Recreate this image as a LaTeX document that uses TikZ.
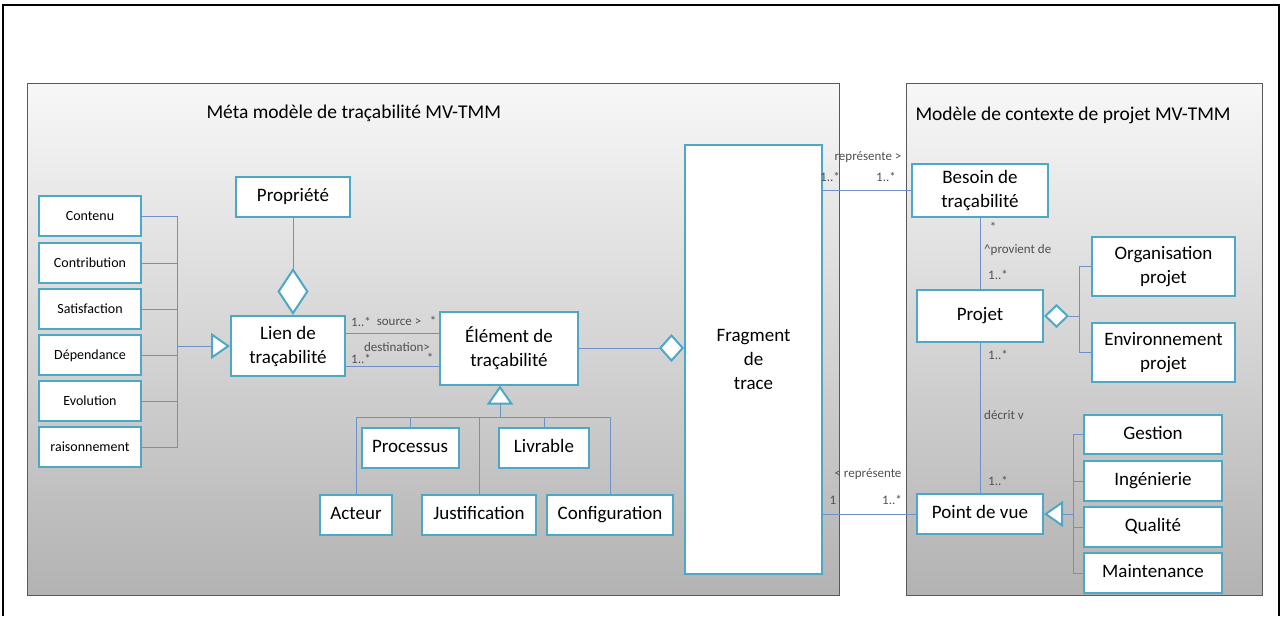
\documentclass[tikz,border=0pt]{standalone}
\usepackage{fontspec}
\setmainfont{Carlito}
\usetikzlibrary{arrows.meta}
\definecolor{boxc}{RGB}{75,168,198}
\definecolor{linkc}{RGB}{110,145,200}
\definecolor{lblc}{RGB}{80,80,80}
\tikzset{
  cls/.style={draw=boxc, line width=2pt, fill=white, inner sep=1pt, align=center, font=\fontsize{19}{24}\selectfont},
  sgl/.style={text height=13pt, text depth=4pt},
  smallcls/.style={cls, sgl, minimum width=102pt, minimum height=40pt, font=\fontsize{14}{16}\selectfont},
  link/.style={draw=linkc, line width=0.8pt},
  lbl/.style={inner sep=0pt, text=lblc, font=\fontsize{13}{15}\selectfont},
  gen/.style={-{Triangle[length=19pt,width=26pt,fill=white,color=boxc,line width=2pt]}},
  agg/.style 2 args={-{Diamond[length=#1,width=#2,fill=white,color=boxc,line width=2pt]}},
  panel/.style={top color=black!3, bottom color=black!30, draw=black!65, line width=1pt},
}
\begin{document}
\begin{tikzpicture}[x=1pt,y=-1pt]
\useasboundingbox (0,0) rectangle (1282,616);
% outer frame
\draw[line width=2.5pt] (3,616) -- (3,5) -- (1279,5) -- (1279,616);
% panels
\shade[panel] (27,83) rectangle (839,595);
\shade[panel] (906,83) rectangle (1262,595);
\node[anchor=west, font=\fontsize{19.5}{22}\selectfont] (titleL) at (203,113) {Méta modèle de traçabilité MV-TMM};
\node[anchor=west, font=\fontsize{19.5}{22}\selectfont] (titleR) at (912,115) {Modèle de contexte de projet MV-TMM};

% kinds of links
\node[smallcls] (contenu) at (90,216) {Contenu};
\node[smallcls] (contribution) at (90,263) {Contribution};
\node[smallcls] (satisfaction) at (90,309) {Satisfaction};
\node[smallcls] (dependance) at (90,355) {Dépendance};
\node[smallcls] (evolution) at (90,401) {Evolution};
\node[smallcls] (raisonnement) at (90,447) {raisonnement};

% meta model
\node[cls, sgl, minimum width=114pt, minimum height=40pt] (propriete) at (293,197) {Propriété};
\node[cls, minimum width=114pt, minimum height=60pt] (lien) at (288,346) {Lien de\\traçabilité};
\node[cls, minimum width=138pt, minimum height=73pt] (element) at (509,348) {Élément de\\traçabilité};
\node[cls, sgl, minimum width=97pt, minimum height=40pt] (processus) at (410,448) {Processus};
\node[cls, sgl, minimum width=90pt, minimum height=40pt] (livrable) at (544,448) {Livrable};
\node[cls, sgl, minimum width=72pt, minimum height=40pt] (acteur) at (356,515) {Acteur};
\node[cls, sgl, minimum width=114pt, minimum height=40pt] (justification) at (479,515) {Justification};
\node[cls, sgl, minimum width=126pt, minimum height=40pt] (configuration) at (610,515) {Configuration};
\node[cls, minimum width=137pt, minimum height=429pt] (fragment) at (753.5,359.5) {Fragment\\de\\trace};

% context model
\node[cls, minimum width=136pt, minimum height=53pt] (besoin) at (980,190.5) {Besoin de\\traçabilité};
\node[cls, sgl, minimum width=126pt, minimum height=52pt] (projet) at (980,316) {Projet};
\node[cls, minimum width=143pt, minimum height=59pt] (organisation) at (1163.5,266.5) {Organisation\\projet};
\node[cls, minimum width=143pt, minimum height=59pt] (environnement) at (1163.5,352.5) {Environnement\\projet};
\node[cls, sgl, minimum width=126pt, minimum height=40pt] (pointvue) at (980,514) {Point de vue};
\node[cls, sgl, minimum width=138pt, minimum height=39pt] (gestion) at (1153,434.5) {Gestion};
\node[cls, sgl, minimum width=138pt, minimum height=40pt] (ingenierie) at (1153,481) {Ingénierie};
\node[cls, sgl, minimum width=138pt, minimum height=40pt] (qualite) at (1153,527) {Qualité};
\node[cls, sgl, minimum width=138pt, minimum height=40pt] (maintenance) at (1153,573) {Maintenance};

% hierarchy of links
\coordinate (busL) at (177,346);
\draw[link] (contenu.east) -| (busL);
\draw[link] (contribution.east) -| (busL);
\draw[link] (satisfaction.east) -| (busL);
\draw[link] (dependance.east) -| (busL);
\draw[link] (evolution.east) -| (busL);
\draw[link] (raisonnement.east) -| (busL);
\draw[link, gen] (busL) -- (lien.west);
\draw[link, agg={47pt}{31pt}] (propriete.south) -- (propriete.south |- lien.north);
\draw[link] ([yshift=13pt]lien.east) -- ([yshift=13pt]lien.east -| element.west);
\draw[link] ([yshift=-20pt]lien.east) -- ([yshift=-20pt]lien.east -| element.west);
\draw[link, agg={25pt}{28pt}] (element.east) -- (element.east -| fragment.west);

% hierarchy of elements
\coordinate (busE) at (500,417);
\draw[link] (acteur.north) |- (busE);
\draw[link] (processus.north) |- (busE);
\draw[link] (justification.north) |- (busE);
\draw[link] (livrable.north) |- (busE);
\draw[link] (configuration.north) |- (busE);
\draw[link, gen] (busE) -- (busE |- element.south);

% context links
\draw[link] (besoin.west -| fragment.east) -- (besoin.west);
\draw[link] (pointvue.west -| fragment.east) -- (pointvue.west);
\draw[link] (besoin.south) -- (projet.north);
\draw[link] (projet.south) -- (pointvue.north);
\coordinate (busP) at (1079,316);
\draw[link] (organisation.west) -| (busP);
\draw[link] (environnement.west) -| (busP);
\draw[link, agg={25pt}{24pt}] (busP) -- (projet.east);
\coordinate (busV) at (1073,514);
\draw[link] (gestion.west) -| (busV);
\draw[link] (ingenierie.west) -| (busV);
\draw[link] (qualite.west) -| (busV);
\draw[link] (maintenance.west) -| (busV);
\draw[link, gen] (busV) -- (pointvue.east);

% multiplicities and roles
\node[lbl] (srcA) at (361,322) {1..*};
\node[lbl] (src) at (399,322) {source >};
\node[lbl] (srcB) at (433,321) {*};
\node[lbl] (dst) at (397,347) {destination>};
\node[lbl] (dstA) at (361,359) {1..*};
\node[lbl] (dstB) at (430,358) {*};
\node[lbl] (rep) at (868,157) {représente >};
\node[lbl] (repA) at (830,177) {1..*};
\node[lbl] (repB) at (886,177) {1..*};
\node[lbl] (prvA) at (993,227) {*};
\node[lbl, anchor=west] (prv) at (984,250) {\textasciicircum provient de};
\node[lbl] (prvB) at (998,275) {1..*};
\node[lbl] (decA) at (998,355) {1..*};
\node[lbl, anchor=west] (dec) at (984,415) {décrit v};
\node[lbl] (decB) at (998,481) {1..*};
\node[lbl] (repb) at (868,474) {< représente};
\node[lbl] (repbA) at (833,500) {1};
\node[lbl] (repbB) at (892,500) {1..*};
\end{tikzpicture}
\end{document}
